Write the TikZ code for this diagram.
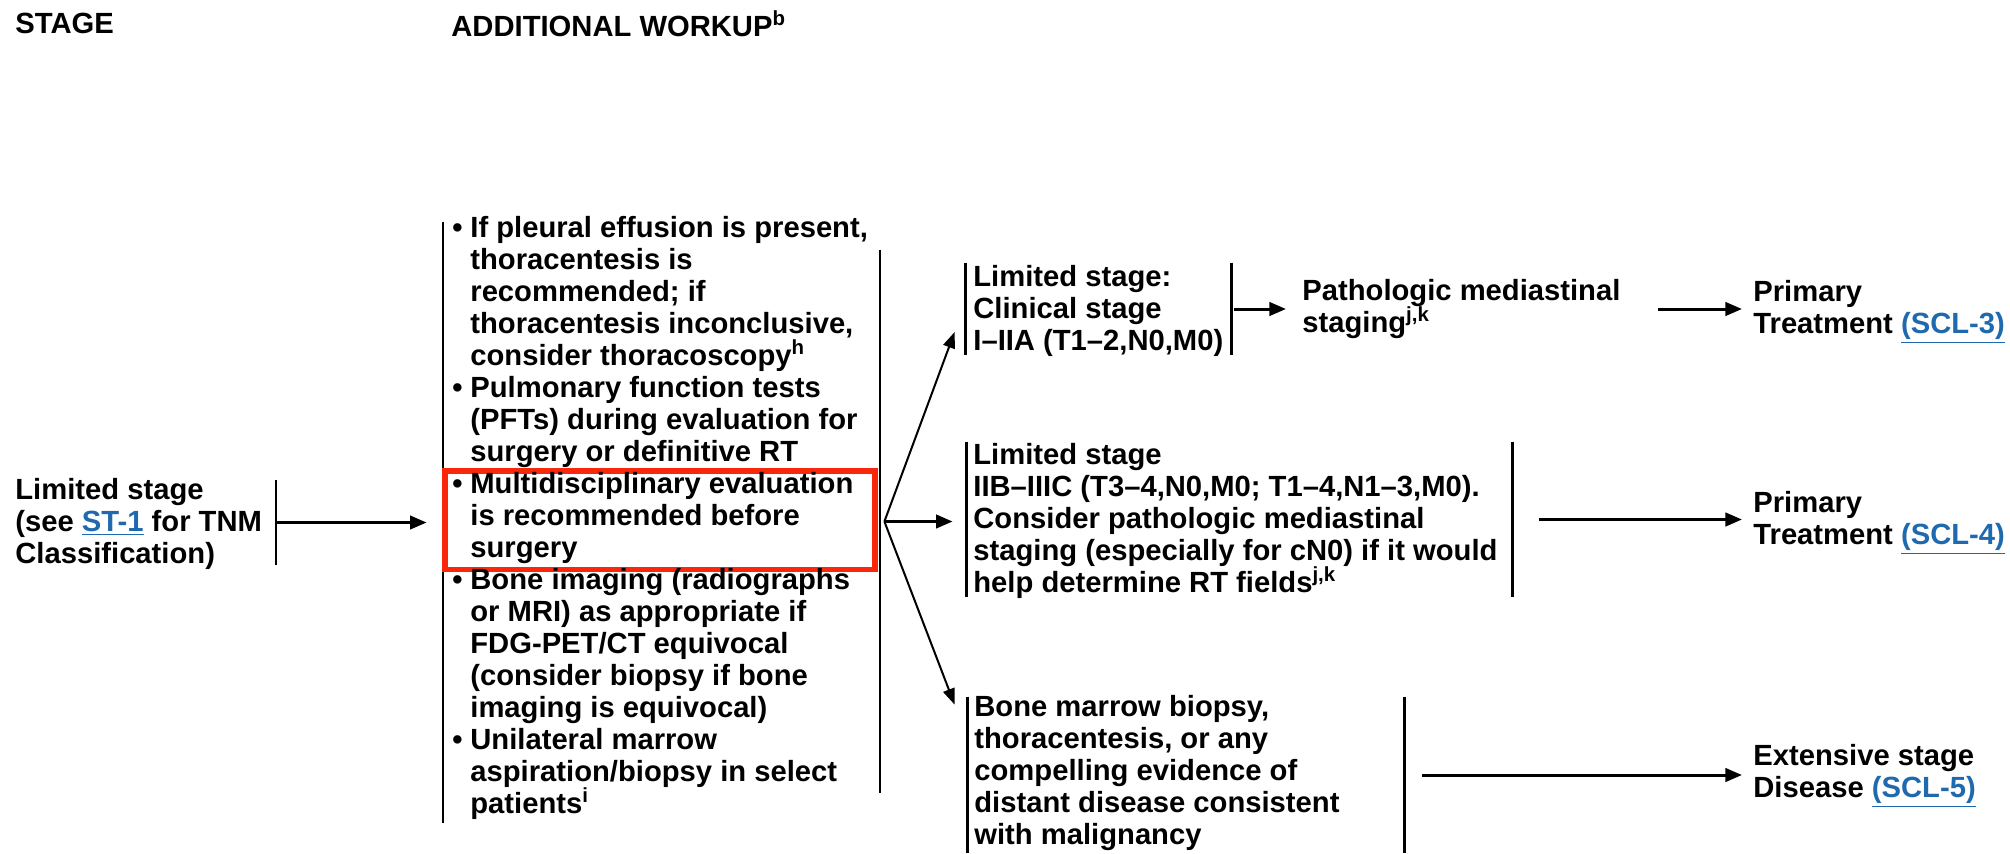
\documentclass[tikz,border=0pt]{standalone}
\usepackage{fontspec}
\setmainfont{Liberation Sans}
\usepackage{tikz}
\usetikzlibrary{arrows.meta,fit}
\definecolor{linkblue}{RGB}{31,105,175}
\definecolor{alertred}{RGB}{250,40,10}
\newcommand{\flowfont}{\fontsize{14.6}{16}\selectfont\bfseries}
\newcommand{\lnk}[1]{\textcolor{linkblue}{\underline{#1}}}
\newcommand{\bul}{\makebox[9pt][l]{\textbullet}}
\newcommand{\ind}{\hspace*{9pt}}
\tikzset{
  txt/.style={anchor=north west, inner sep=0pt, align=left, font=\flowfont, execute at begin node=\strut},
  frame/.style={inner sep=0pt, minimum size=0pt},
  bar/.style={line width=1.35pt},
  bigarrow/.style={line width=1.5pt, -{Triangle[length=8.3pt,width=6.7pt]}},
  thinarrow/.style={line width=1pt, -{Triangle[length=8pt,width=6pt]}},
}

\begin{document}
\begin{tikzpicture}[x=0.5pt,y=-0.5pt]
\useasboundingbox (0,0) rectangle (2010,853);
\node[txt] (hstage) at (15,10.6) {STAGE};
\node[txt] (hwork) at (451,10.6) {ADDITIONAL WORKUP\textsuperscript{b}};
\node[frame, fit={(276,480)(276,565)}] (stagebar) {};
\node[frame, fit={(443,222)(443,823)}] (workL) {};
\node[frame, fit={(880,250)(880,793)}] (workR) {};
\node[frame, fit={(966,263)(1231,355)}] (c1) {};
\node[frame, fit={(967,442)(1512,597)}] (c2) {};
\node[frame, fit={(968,697)(1404,853)}] (c3) {};
\draw[bar] (stagebar.north) -- (stagebar.south);
\draw[bar] (workL.north) -- (workL.south);
\draw[bar] (workR.north) -- (workR.south);
\foreach \c in {c1,c2,c3} {
  \draw[bar] (\c.north west) -- (\c.south west);
  \draw[bar] (\c.north east) -- (\c.south east);
}
\node[frame, fit={(445,471)(875,569.5)}, draw=alertred, line width=2.8pt] (multi) {};
\node[txt] (limited) at (15,477.6) {Limited stage\\(see \lnk{ST-1} for TNM\\Classification)};
\node[txt] (work) at (452,215.6) {\bul If pleural effusion is present,\\
  \ind thoracentesis is\\
  \ind recommended; if\\
  \ind thoracentesis inconclusive,\\
  \ind consider thoracoscopy\textsuperscript{h}\\
  \bul Pulmonary function tests\\
  \ind (PFTs) during evaluation for\\
  \ind surgery or definitive RT\\
  \bul Multidisciplinary evaluation\\
  \ind is recommended before\\
  \ind surgery\\
  \bul Bone imaging (radiographs\\
  \ind or MRI) as appropriate if\\
  \ind FDG-PET/CT equivocal\\
  \ind (consider biopsy if bone\\
  \ind imaging is equivocal)\\
  \bul Unilateral marrow\\
  \ind aspiration/biopsy in select\\
  \ind patients\textsuperscript{i}};
\node[txt] (c1t) at (973,264.6) {Limited stage:\\Clinical stage\\I--IIA (T1--2,N0,M0)};
\node[txt] (path) at (1302,278.6) {Pathologic mediastinal\\staging\textsuperscript{j,k}};
\node[txt] (prim1) at (1753,279.6) {Primary\\Treatment \lnk{(SCL-3)}};
\node[txt] (c2t) at (973,442.6) {Limited stage\\IIB--IIIC (T3--4,N0,M0; T1--4,N1--3,M0).\\Consider pathologic mediastinal\\staging (especially for cN0) if it would\\help determine RT fields\textsuperscript{j,k}};
\node[txt] (prim2) at (1753,490.6) {Primary\\Treatment \lnk{(SCL-4)}};
\node[txt] (c3t) at (974,694.6) {Bone marrow biopsy,\\thoracentesis, or any\\compelling evidence of\\distant disease consistent\\with malignancy};
\node[txt] (ext) at (1753,743.6) {Extensive stage\\Disease \lnk{(SCL-5)}};
\coordinate (fork) at ([xshift=2pt]workR.east);
\draw[bigarrow, shorten >=8pt] (stagebar.east) -- (stagebar.east -| workL.west);
\draw[thinarrow] (fork) -- ([xshift=-5.5pt,yshift=-11.5pt]c1.west);
\draw[bigarrow, shorten >=7pt] (fork) -- (fork -| c2.west);
\draw[thinarrow] (fork) -- ([xshift=-6.5pt,yshift=-4pt]c3.north west);
\draw[bigarrow, shorten <=1.5pt, shorten >=8pt] (c1.east) -- (c1.east -| path.west);
\draw[bigarrow, shorten <=18.5pt, shorten >=5.5pt] (path.east |- c1.east) -- (c1.east -| prim1.west);
\draw[bigarrow, shorten <=13.5pt, shorten >=5.5pt] (c2.east) -- (c2.east -| prim2.west);
\draw[bigarrow, shorten <=9pt, shorten >=5.5pt] (c3.east) -- (c3.east -| ext.west);
\end{tikzpicture}
\end{document}
